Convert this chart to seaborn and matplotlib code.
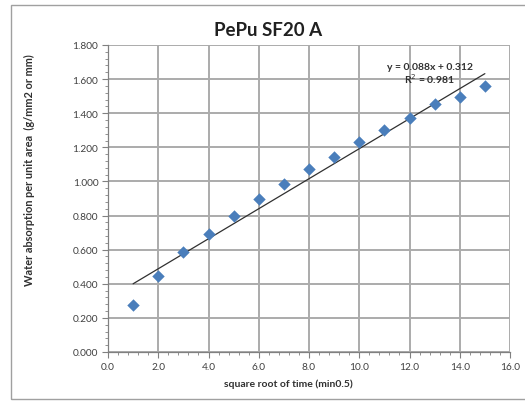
import numpy as np
import pandas as pd
import matplotlib
matplotlib.use("Agg")
import matplotlib.pyplot as plt
from matplotlib.ticker import MultipleLocator, FormatStrFormatter
from matplotlib.patches import Rectangle
import seaborn as sns

# Measured water absorption against square root of time
sqrt_time = [1, 2, 3, 4, 5, 6, 7, 8, 9, 10, 11, 12, 13, 14, 15]
absorption = [0.275, 0.443, 0.587, 0.692, 0.799, 0.900, 0.986, 1.072,
              1.146, 1.230, 1.300, 1.370, 1.456, 1.495, 1.557]

# Linear trendline parameters
slope = 0.088
intercept = 0.312
r_squared = 0.981

title = "PePu SF20 A"
x_label = "square root of time (min0.5)"
y_label = "Water absorption per unit area  (g/mm2 or mm)"

sns.set_theme(style="white")
plt.rcParams["font.family"] = ["Lato", "DejaVu Sans"]

df = pd.DataFrame({"t": sqrt_time, "w": absorption})

fig = plt.figure(figsize=(5.25, 4.06), dpi=100)
ax = fig.add_axes([108 / 525, 1 - 353 / 406, (510 - 108) / 525, (353 - 46) / 406])

# chart area frame
fig.patches.append(Rectangle((11 / 525, 1 - 400 / 406), 1.0, (400 - 6) / 406,
                             transform=fig.transFigure, fill=False,
                             edgecolor="#a0a0a0", linewidth=1.0))

sns.scatterplot(data=df, x="t", y="w", marker="D", s=40, color="#4a7ebb",
                edgecolor="#4a7ebb", linewidth=0, ax=ax, zorder=3)

# trendline over the data range
line_x = np.array([min(sqrt_time), max(sqrt_time)])
sns.lineplot(x=line_x, y=slope * line_x + intercept, color="#303030",
             linewidth=0.9, ax=ax, zorder=2)

ax.set_xlim(0, 16)
ax.set_ylim(0, 1.8)
ax.xaxis.set_major_locator(MultipleLocator(2))
ax.xaxis.set_minor_locator(MultipleLocator(0.4))
ax.yaxis.set_major_locator(MultipleLocator(0.2))
ax.yaxis.set_minor_locator(MultipleLocator(0.04))
ax.xaxis.set_major_formatter(FormatStrFormatter("%.1f"))
ax.yaxis.set_major_formatter(FormatStrFormatter("%.3f"))

ax.grid(True, which="major", color="#ababab", linewidth=1.4)
ax.set_axisbelow(True)
for side in ["top", "right"]:
    ax.spines[side].set_visible(False)
for side in ["left", "bottom"]:
    ax.spines[side].set_color("#808080")
    ax.spines[side].set_linewidth(0.9)

ax.tick_params(which="major", direction="out", length=4, width=0.8,
               color="#808080", labelsize=7.3, labelcolor="#404040", pad=3)
ax.tick_params(which="minor", direction="out", length=2.5, width=0.6,
               color="#808080")
ax.tick_params(axis="x", which="both", bottom=True)
ax.tick_params(axis="y", which="both", left=True)

ax.set_xlabel("")
ax.set_ylabel("")
fig.text(288 / 525, 1 - 384 / 406, x_label, fontsize=7.5, fontweight="bold",
         color="#303030", ha="center", va="center")
fig.text(29 / 525, 1 - 170 / 406, y_label, rotation=90, fontsize=7.9,
         fontweight="bold", color="#303030", ha="center", va="center")

fig.text(268 / 525, 1 - 30 / 406, title, fontsize=13.5, fontweight="bold",
         color="#202020", ha="center", va="center")

ax.text(0.800, 0.908, f"y = {slope:.3f}x + {intercept:.3f}\nR$^2$ = {r_squared:.3f}",
        transform=ax.transAxes, fontsize=7.5, fontweight="bold", color="#303030",
        ha="center", va="center", linespacing=1.0)

fig.savefig("out.png", dpi=100)
